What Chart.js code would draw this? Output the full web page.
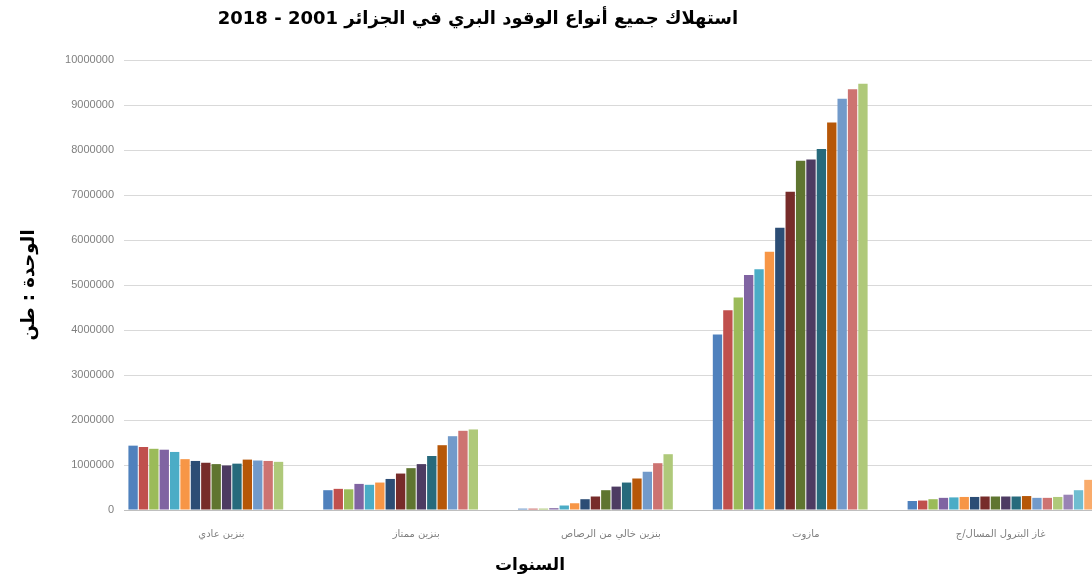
<!DOCTYPE html>
<html>
<head>
<meta charset="utf-8">
<script src="https://cdn.jsdelivr.net/npm/chart.js@4"></script>
<style>
  html, body { margin: 0; padding: 0; background: #fff; overflow: hidden; }
  #wrap { position: relative; width: 1092px; height: 585px; overflow: hidden; }
  .lbl { position: absolute; font-family: "DejaVu Sans", sans-serif; font-weight: bold; color: #000; white-space: nowrap; transform: translateX(-50%); direction: rtl; }
</style>
</head>
<body>
<div id="wrap">
  <canvas id="myChart" width="1098" height="585"></canvas>
  <div class="lbl" style="left:478px; top:7px; font-size:18px;">استهلاك جميع أنواع الوقود البري في الجزائر 2001 - 2018</div>
  <div class="lbl" style="left:530px; top:554px; font-size:17px;">السنوات</div>
</div>
<script>
// categories (fuel types), left to right
var fuels = ['بنزين عادي', 'بنزين ممتاز', 'بنزين خالي من الرصاص', 'مازوت', 'غاز البترول المسال/ج'];
var years = ['2001','2002','2003','2004','2005','2006','2007','2008','2009','2010','2011','2012','2013','2014','2015','2016','2017','2018'];

// consumption in tonnes, one value per year
var regular  = [1430000, 1400000, 1360000, 1340000, 1290000, 1130000, 1090000, 1050000, 1020000, 990000, 1030000, 1120000, 1100000, 1090000, 1070000, null, null, null];
var premium  = [440000, 470000, 460000, 580000, 560000, 610000, 690000, 810000, 930000, 1020000, 1200000, 1440000, 1640000, 1760000, 1790000, null, null, null];
var unleaded = [30000, 30000, 30000, 40000, 100000, 150000, 240000, 300000, 440000, 520000, 610000, 700000, 850000, 1040000, 1240000, null, null, null];
var diesel   = [3900000, 4440000, 4720000, 5220000, 5350000, 5740000, 6270000, 7070000, 7760000, 7790000, 8020000, 8610000, 9140000, 9350000, 9470000, null, null, null];
var lpg      = [200000, 210000, 240000, 270000, 280000, 290000, 290000, 300000, 300000, 300000, 300000, 310000, 270000, 270000, 290000, 340000, 440000, 670000];

var yTicks = [0, 1000000, 2000000, 3000000, 4000000, 5000000, 6000000, 7000000, 8000000, 9000000, 10000000];

// excel 2010 style palette
var colors = ['#4F81BD','#C0504D','#9BBB59','#8064A2','#4BACC6','#F79646',
              '#2C4D75','#772C2A','#5F7530','#4D3B62','#276A7C','#B65708',
              '#729ACA','#CD7371','#AFC97A','#9983B5','#6FBDD1','#F9AB6B'];

var byFuel = [regular, premium, unleaded, diesel, lpg];
var datasets = years.map(function (y, i) {
    return {
        label: y,
        data: byFuel.map(function (arr) { return arr[i]; }),
        backgroundColor: colors[i],
        barPercentage: 0.9,
        categoryPercentage: 0.96
    };
});

var ctx = document.getElementById('myChart').getContext('2d');
var chart = new Chart(ctx, {
    type: 'bar',
    data: { labels: fuels, datasets: datasets },
    options: {
        responsive: false,
        animation: false,
        layout: { padding: { top: 60, right: 0, bottom: 0, left: 0 } },
        plugins: {
            legend: { display: false },
            tooltip: { enabled: false }
        },
        scales: {
            x: {
                grid: { display: false },
                border: { display: true, color: '#bfbfbf' },
                ticks: { color: '#7f7f7f', padding: 10, font: { family: 'DejaVu Sans', size: 10 } },
                afterFit: function (s) { s.height = 75; }
            },
            y: {
                min: 0,
                max: 10000000,
                afterBuildTicks: function (s) { s.ticks = yTicks.map(function (v) { return { value: v }; }); },
                grid: { color: '#d9d9d9', drawTicks: false },
                border: { display: false },
                ticks: {
                    color: '#7f7f7f', padding: 10,
                    font: { family: 'Liberation Sans', size: 11 },
                    callback: function (v) { return String(v); }
                },
                title: {
                    display: true,
                    text: 'الوحدة : طن',
                    color: '#000',
                    font: { family: 'DejaVu Sans', size: 18, weight: 'bold' },
                    padding: { top: 19, bottom: 0 }
                },
                afterFit: function (s) { s.width = 124; }
            }
        }
    }
});
</script>
</body>
</html>
